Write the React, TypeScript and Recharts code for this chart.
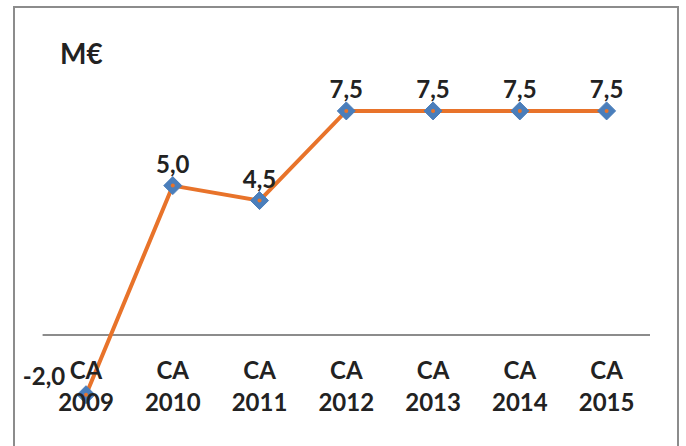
import { LabelList, Line, LineChart, ReferenceLine, XAxis, YAxis } from "recharts";

// Values
const categories = ["CA 2009", "CA 2010", "CA 2011", "CA 2012", "CA 2013", "CA 2014", "CA 2015"];
const amounts = [-2.0, 5.0, 4.5, 7.5, 7.5, 7.5, 7.5];
const unitLabel = "M€";

const data = categories.map((name, i) => ({ name, amount: amounts[i] }));

const FONT = "Lato, 'Open Sans', sans-serif";
const TEXT = "#222222";
const ORANGE = "#E8732A";
const BLUE = "#4A7EBB";

const fmt = (v: number) => v.toFixed(1).replace(".", ",");

const Diamond = ({ cx, cy }: any) => {
  if (cx == null || cy == null) return null;
  const r = 9;
  return (
    <g>
      <path d={`M${cx},${cy - r} L${cx + r},${cy} L${cx},${cy + r} L${cx - r},${cy} Z`} fill={BLUE} strokeLinejoin="round" stroke={BLUE} strokeWidth={1} />
      <circle cx={cx} cy={cy} r={2} fill={ORANGE} />
    </g>
  );
};

const ValueLabel = ({ x, y, value }: any) => {
  const neg = value < 0;
  return (
    <text
      x={neg ? x - 42 : x}
      y={neg ? y - 10 : y - 13}
      textAnchor="middle"
      fontFamily={FONT}
      fontWeight={700}
      fontSize={24}
      fill={TEXT}
    >
      {fmt(value)}
    </text>
  );
};

const CategoryTick = ({ x, y, payload }: any) => {
  const [top, bottom] = String(payload.value).split(" ");
  return (
    <text textAnchor="middle" fontFamily={FONT} fontWeight={700} fontSize={24} fill={TEXT}>
      <tspan x={x} y={y - 54}>{top}</tspan>
      <tspan x={x} y={y - 22}>{bottom}</tspan>
    </text>
  );
};

export default function App() {
  return (
    <div style={{ position: "absolute", left: 0, top: 0, width: 686, height: 446, background: "#fff", overflow: "hidden" }}>
      <div
        style={{
          position: "absolute",
          left: 13,
          top: 6,
          width: 666,
          height: 460,
          border: "2px solid #8c8c8c",
          boxSizing: "border-box",
        }}
      />
      <div
        style={{
          position: "absolute",
          left: 60,
          top: 36,
          fontFamily: FONT,
          fontWeight: 700,
          fontSize: 28,
          color: TEXT,
        }}
      >
        {unitLabel}
      </div>
      <LineChart
        width={686}
        height={446}
        data={data}
        margin={{ top: 96, right: 36, left: 42.6, bottom: 0 }}
        style={{ position: "absolute", left: 0, top: 0 }}
      >
        <XAxis
          dataKey="name"
          axisLine={false}
          tickLine={false}
          height={21.4}
          interval={0}
          padding={{ left: 43.4, right: 43.4 }}
          tick={<CategoryTick />}
        />
        <YAxis hide domain={[-3, 8]} />
        <ReferenceLine y={0} stroke="#8c8c8c" strokeWidth={2} />
        <Line
          type="linear"
          dataKey="amount"
          stroke={ORANGE}
          strokeWidth={4}
          dot={<Diamond />}
          activeDot={false}
          isAnimationActive={false}
        >
          <LabelList dataKey="amount" content={<ValueLabel />} />
        </Line>
      </LineChart>
    </div>
  );
}
